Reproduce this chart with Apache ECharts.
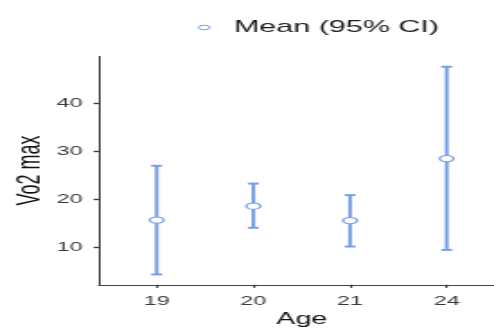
<!DOCTYPE html>
<html>
<head>
<meta charset="utf-8">
<script src="https://cdn.jsdelivr.net/npm/echarts@6/dist/echarts.min.js"></script>
<style>
html,body{margin:0;padding:0;background:#fff;overflow:hidden;width:494px;height:334px;}
#c{width:275px;height:334px;transform:scaleX(1.79636);transform-origin:0 0;}
</style>
</head>
<body>
<div id="c"></div>
<script>
const categories = ['19', '20', '21', '24'];
const means = [15.7, 18.6, 15.6, 28.5];
const lower = [4.4, 14.1, 10.2, 9.5];
const upper = [27.0, 23.3, 20.9, 47.6];
const yTicks = [10, 20, 30, 40];

const blue = '#76a0e6';
const ellipse = 'path://M0,5a7,5 0 1,0 14,0a7,5 0 1,0 -14,0z';
const chart = echarts.init(document.getElementById('c'), null, {renderer: 'canvas'});

const idx = categories.map((c, i) => i);
const sans = "'Liberation Sans', Arial, sans-serif";

chart.setOption({
  animation: false,
  backgroundColor: '#fff',
  legend: {
    data: [{name: 'Mean (95% CI)', icon: ellipse, itemStyle: {color: '#fff', borderColor: blue, borderWidth: 1}}],
    left: 105,
    top: 14,
    itemWidth: 7,
    itemHeight: 4.5,
    itemStyle: {color: '#fff', borderColor: blue, borderWidth: 1},
    textStyle: {fontFamily: sans, fontSize: 17, color: '#1a1a1a', padding: [0, 0, 0, 8]}
  },
  grid: {left: 54.95, right: -5.95, top: 56.4, bottom: 49.2, containLabel: false, outerBoundsMode: 'none'},
  xAxis: {
    type: 'value',
    min: -0.6,
    max: 3.6,
    name: 'Age',
    nameLocation: 'middle',
    nameGap: 27,
    nameMoveOverlap: false,
    nameTextStyle: {fontFamily: sans, fontSize: 16, color: '#111'},
    splitLine: {show: false},
    axisLine: {show: true, onZero: false, lineStyle: {color: '#444', width: 1}},
    axisTick: {show: true, customValues: idx, length: 3, lineStyle: {color: '#333', width: 1.2}},
    axisLabel: {
      customValues: idx,
      margin: 10,
      formatter: v => categories[Math.round(v)],
      fontFamily: sans,
      fontSize: 13,
      color: '#3a3a3a'
    }
  },
  yAxis: {
    type: 'value',
    min: 2.24,
    max: 49.76,
    name: 'Vo2 max',
    nameLocation: 'middle',
    nameGap: 29,
    nameMoveOverlap: false,
    nameTextStyle: {fontFamily: sans, fontSize: 18, color: '#111'},
    splitLine: {show: false},
    axisLine: {show: true, onZero: false, lineStyle: {color: '#333', width: 1}},
    axisTick: {show: true, customValues: yTicks, length: 2.8, lineStyle: {color: '#333', width: 1.3}},
    axisLabel: {
      customValues: yTicks,
      margin: 9,
      fontFamily: sans,
      fontSize: 13,
      color: '#3a3a3a'
    }
  },
  series: [
    {
      type: 'custom',
      name: 'CI',
      data: idx.map(i => [i, lower[i], upper[i]]),
      encode: {x: 0, y: [1, 2]},
      z: 2,
      renderItem: function (params, api) {
        const x = api.value(0);
        const pLo = api.coord([x, api.value(1)]);
        const pHi = api.coord([x, api.value(2)]);
        const hw = 3;
        const st = {stroke: blue, lineWidth: 2};
        return {
          type: 'group',
          children: [
            {type: 'line', shape: {x1: pLo[0], y1: pLo[1], x2: pHi[0], y2: pHi[1]}, style: st},
            {type: 'line', shape: {x1: pHi[0] - hw, y1: pHi[1], x2: pHi[0] + hw, y2: pHi[1]}, style: st},
            {type: 'line', shape: {x1: pLo[0] - hw, y1: pLo[1], x2: pLo[0] + hw, y2: pLo[1]}, style: st}
          ]
        };
      }
    },
    {
      type: 'scatter',
      name: 'Mean (95% CI)',
      data: idx.map(i => [i, means[i]]),
      symbol: ellipse,
      symbolSize: [7.8, 6.2],
      z: 3,
      itemStyle: {color: '#fff', borderColor: blue, borderWidth: 1.2, opacity: 1}
    }
  ]
});
</script>
</body>
</html>
